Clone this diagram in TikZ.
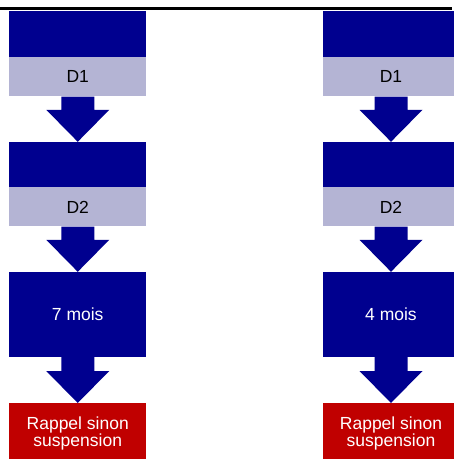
\documentclass[tikz,border=0pt]{standalone}
\usepackage{fontspec}
\setmainfont{Liberation Sans}
\usetikzlibrary{calc}
\definecolor{dblue}{RGB}{0,0,143}
\definecolor{lblue}{RGB}{180,180,212}
\definecolor{dred}{RGB}{192,0,0}
\tikzset{
  dark/.style={fill=dblue, draw=none, inner sep=0pt, minimum width=137pt, text=white, font=\fontsize{17.5}{17}\selectfont, align=center},
  light/.style={fill=lblue, draw=none, inner sep=0pt, minimum width=137pt, text=black, font=\fontsize{17.5}{17}\selectfont},
  redbox/.style={fill=dred, draw=none, inner sep=0pt, minimum width=137pt, text=white, font=\fontsize{17.5}{17}\selectfont, align=center},
  barrow/.style={fill=dblue, draw=none}
}
\newcommand{\blockarrow}[2]{%
  \fill[barrow] ($(#1.south)+(-16.5pt,0)$) -- ($(#1.south)+(16.5pt,0)$)
    -- ($(#2.north)+(16.5pt,32pt)$) -- ($(#2.north)+(31.5pt,32pt)$)
    -- (#2.north) -- ($(#2.north)+(-31.5pt,32pt)$)
    -- ($(#2.north)+(-16.5pt,32pt)$) -- cycle;}
\begin{document}
\begin{tikzpicture}[x=1pt,y=-1pt]
\useasboundingbox (0,0) rectangle (454,459);
\fill[white] (0,0) rectangle (454,459);
\draw[line width=2.5pt] (0,8.5) coordinate (la) -- (452,8.5) coordinate (lb);
% left column (center x = 77.75)
\node[dark, minimum height=46pt] (a1) at (77.75,34) {};
\node[light, minimum height=39pt, anchor=north] (a1l) at (a1.south) {D1};
\node[dark, minimum height=45pt] (a2) at (77.75,164.5) {};
\node[light, minimum height=39pt, anchor=north] (a2l) at (a2.south) {D2};
\node[dark, minimum height=85pt] (a3) at (77.75,314.5) {7 mois};
\node[redbox, minimum height=60pt, anchor=north] (a4) at (77.75,403) {Rappel sinon\\suspension};
\blockarrow{a1l}{a2}
\blockarrow{a2l}{a3}
\blockarrow{a3}{a4}
% right column (center x = 391)
\node[dark, minimum height=46pt] (b1) at (391,34) {};
\node[light, minimum height=39pt, anchor=north] (b1l) at (b1.south) {D1};
\node[dark, minimum height=45pt] (b2) at (391,164.5) {};
\node[light, minimum height=39pt, anchor=north] (b2l) at (b2.south) {D2};
\node[dark, minimum height=85pt] (b3) at (391,314.5) {4 mois};
\node[redbox, minimum height=60pt, anchor=north] (b4) at (391,403) {Rappel sinon\\suspension};
\blockarrow{b1l}{b2}
\blockarrow{b2l}{b3}
\blockarrow{b3}{b4}
\end{tikzpicture}
\end{document}
